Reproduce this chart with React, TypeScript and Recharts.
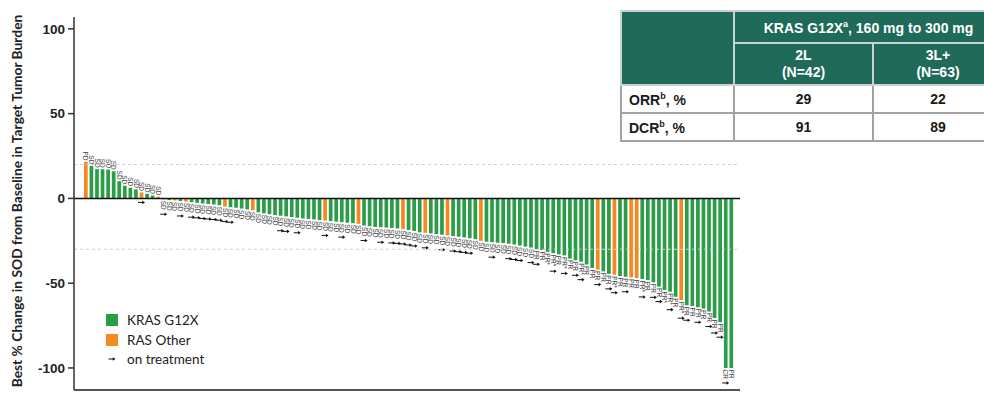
import React from 'react'
import { Bar, BarChart, ReferenceLine, XAxis, YAxis } from 'recharts'

// best % change per patient, sorted (waterfall)
const VALUES = [
  21.5, 19.2, 17.3, 17.2, 17.0, 16.0, 10.2, 7.5, 6.3, 5.3,
  3.5, 2.7, 1.7, 1.0, -0.5, -1.0, -1.2, -1.5, -1.8, -2.2,
  -2.6, -3.0, -3.3, -3.6, -4.0, -4.8, -5.2, -5.5, -6.0, -6.5,
  -7.0, -8.2, -8.8, -9.3, -9.8, -10.2, -10.6, -11.0, -11.4, -11.8,
  -12.1, -12.4, -12.7, -13.0, -13.4, -13.7, -14.0, -14.3, -14.6, -15.0,
  -16.0, -16.4, -16.8, -17.0, -17.2, -17.4, -17.7, -18.0, -18.6, -19.2,
  -20.0, -20.3, -20.6, -21.0, -21.4, -21.8, -22.2, -22.6, -23.0, -23.5,
  -24.0, -25.0, -25.5, -25.8, -26.1, -26.4, -26.7, -27.2, -27.8, -28.4,
  -29.0, -30.0, -30.4, -31.5, -32.3, -33.0, -33.6, -35.5, -36.5, -37.3,
  -39.0, -41.0, -42.0, -43.0, -44.5, -45.0, -45.8, -46.2, -46.6, -47.0,
  -47.5, -48.2, -49.5, -52.0, -54.0, -55.0, -58.0, -60.0, -63.0, -63.5,
  -64.2, -65.0, -66.7, -70.5, -73.0, -100.0, -100.0,
]

// patients with RAS Other (rest are KRAS G12X)
const RAS_OTHER = [0, 10, 13, 16, 18, 25, 30, 43, 49, 57, 61, 65, 71, 92, 95, 98, 99, 107]

// best overall response
const PD_IDX = [0]
const CR_IDX = [115]
const PR_FROM = 81
const PR_STAR = [83, 84, 86, 89, 95, 100, 104, 105, 107]

// still on treatment
const ON_TX = [
  10, 14, 17, 19, 20, 21, 22, 23, 24, 25, 26, 35, 36, 38, 43, 46, 50, 53,
  55, 56, 57, 58, 59, 61, 64, 66, 67, 68, 69, 73, 76, 77, 78, 80, 81, 84,
  86, 88, 89, 92, 94, 95, 97, 100, 102, 103, 105, 107, 108, 110, 112, 113, 114, 115,
]

const Y_TICKS = [-100, -50, 0, 50, 100]

const GREEN = '#2b9c47'
const ORANGE = '#f5891f'

const responseOf = (i: number) => {
  if (PD_IDX.includes(i)) return 'PD'
  if (CR_IDX.includes(i)) return 'CR'
  if (i >= PR_FROM) return PR_STAR.includes(i) ? 'PR*' : 'PR'
  return 'SD'
}

const data = VALUES.map((v, i) => ({
  idx: i,
  value: v,
  group: RAS_OTHER.includes(i) ? 'RAS Other' : 'KRAS G12X',
  resp: responseOf(i),
  onTx: ON_TX.includes(i),
}))

const Arrow = ({ cx, y }: { cx: number; y: number }) => (
  <g>
    <line x1={cx - 3.5} y1={y} x2={cx + 1.5} y2={y} stroke="#111" strokeWidth={1} />
    <polygon points={`${cx + 3.5},${y} ${cx + 0.8},${y - 1.8} ${cx + 0.8},${y + 1.8}`} fill="#111" />
  </g>
)

const BarShape = (props: any) => {
  const { x, y, width, height, payload } = props
  const top = Math.min(y, y + height)
  const h = Math.abs(height)
  const cx = x + width / 2
  const fill = payload.group === 'RAS Other' ? ORANGE : GREEN
  const labelLen = payload.resp.length === 3 ? 12 : 9
  const positive = payload.value >= 0
  const bottom = top + h
  return (
    <g>
      <rect x={x} y={top} width={width} height={h} fill={fill} />
      {positive ? (
        <text
          transform={`translate(${cx - 2.4},${top - 1.5}) rotate(90)`}
          textAnchor="end"
          fontSize={6.5}
          fill="#444"
          fontFamily="Arial, sans-serif"
        >
          {payload.resp}
        </text>
      ) : (
        <text
          transform={`translate(${cx - 2.4},${bottom + 1.5}) rotate(90)`}
          textAnchor="start"
          fontSize={6.5}
          fill="#444"
          fontFamily="Arial, sans-serif"
        >
          {payload.resp}
        </text>
      )}
      {payload.onTx && (
        <Arrow cx={cx} y={positive ? bottom + 4 : bottom + 2 + labelLen + 4} />
      )}
    </g>
  )
}

const headCell: React.CSSProperties = {
  border: '2px solid #c9d3cf',
  background: '#1f6a58',
  color: '#fff',
  fontWeight: 'bold',
  textAlign: 'center',
  padding: 0,
}

const bodyCell: React.CSSProperties = {
  border: '2px solid #a3a3a3',
  color: '#1a1a1a',
  fontWeight: 'bold',
  textAlign: 'center',
  padding: 0,
  background: '#fff',
}

export default function App() {
  return (
    <div
      style={{
        position: 'absolute',
        left: 0,
        top: 0,
        width: 984,
        height: 394,
        overflow: 'hidden',
        background: '#fff',
      }}
    >
      <BarChart
        width={984}
        height={394}
        data={data}
        margin={{ top: 17, right: 244, left: 0, bottom: 3 }}
        barSize={3.7}
      >
        <XAxis
          dataKey="idx"
          tick={false}
          tickLine={false}
          axisLine={{ stroke: '#555', strokeWidth: 2 }}
          height={1}
          padding={{ left: 9, right: 6 }}
        />
        <YAxis
          domain={[-113, 107]}
          ticks={Y_TICKS}
          width={74}
          axisLine={{ stroke: '#333', strokeWidth: 1.5 }}
          tickLine={{ stroke: '#333', strokeWidth: 1.5 }}
          tickSize={6}
          tickMargin={3}
          tick={{ fill: '#222', fontSize: 13.5, fontWeight: 'bold', fontFamily: 'Arial, sans-serif' }}
        />
        <Bar dataKey="value" isAnimationActive={false} shape={<BarShape />} />
        <ReferenceLine y={20} stroke="#cfcfcf" strokeDasharray="3 3" />
        <ReferenceLine y={-30} stroke="#cfcfcf" strokeDasharray="3 3" />
        <ReferenceLine y={0} stroke="#111" strokeWidth={1.5} />
      </BarChart>

      {/* y axis title */}
      <div
        style={{
          position: 'absolute',
          left: 16,
          top: 201,
          transform: 'translate(-50%, -50%) rotate(-90deg)',
          whiteSpace: 'nowrap',
          fontFamily: 'Lato, sans-serif',
          fontWeight: 'bold',
          fontSize: 13.8,
          color: '#222',
        }}
      >
        Best % Change in SOD from Baseline in Target Tumor Burden
      </div>

      {/* legend */}
      <div style={{ position: 'absolute', left: 106, top: 310, fontFamily: 'Lato, sans-serif', fontSize: 13.5, color: '#222' }}>
        <div style={{ display: 'flex', alignItems: 'center', height: 20 }}>
          <span style={{ width: 12, height: 12, background: GREEN, display: 'inline-block', marginRight: 9 }} />
          KRAS G12X
        </div>
        <div style={{ display: 'flex', alignItems: 'center', height: 20 }}>
          <span style={{ width: 12, height: 12, background: ORANGE, display: 'inline-block', marginRight: 9 }} />
          RAS Other
        </div>
        <div style={{ display: 'flex', alignItems: 'center', height: 18 }}>
          <svg width={12} height={8} style={{ marginRight: 9 }}>
            <Arrow cx={6} y={4} />
          </svg>
          on treatment
        </div>
      </div>

      {/* summary table */}
      <table
        style={{
          position: 'absolute',
          left: 620,
          top: 10,
          width: 382,
          borderCollapse: 'collapse',
          tableLayout: 'fixed',
          fontFamily: 'Arial, sans-serif',
          fontSize: 14,
          border: '2px solid #a3a3a3',
        }}
      >
        <colgroup>
          <col style={{ width: 113 }} />
          <col style={{ width: 139 }} />
          <col style={{ width: 130 }} />
        </colgroup>
        <tbody>
          <tr style={{ height: 32 }}>
            <td rowSpan={2} style={headCell} />
            <td colSpan={2} style={headCell}>
              KRAS G12X<sup style={{ fontSize: 9 }}>a</sup>, 160 mg to 300 mg
            </td>
          </tr>
          <tr style={{ height: 42 }}>
            <td style={{ ...headCell, lineHeight: '17px' }}>
              2L
              <br />
              (N=42)
            </td>
            <td style={{ ...headCell, lineHeight: '17px' }}>
              3L+
              <br />
              (N=63)
            </td>
          </tr>
          <tr style={{ height: 28 }}>
            <td style={{ ...bodyCell, textAlign: 'left', paddingLeft: 7 }}>
              ORR<sup style={{ fontSize: 9 }}>b</sup>, %
            </td>
            <td style={bodyCell}>29</td>
            <td style={bodyCell}>22</td>
          </tr>
          <tr style={{ height: 28 }}>
            <td style={{ ...bodyCell, textAlign: 'left', paddingLeft: 7 }}>
              DCR<sup style={{ fontSize: 9 }}>b</sup>, %
            </td>
            <td style={bodyCell}>91</td>
            <td style={bodyCell}>89</td>
          </tr>
        </tbody>
      </table>
    </div>
  )
}
